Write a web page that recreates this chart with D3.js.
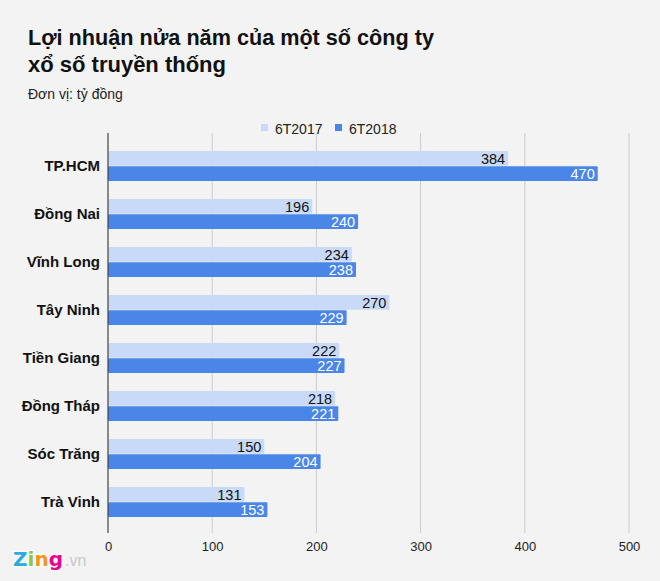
<!DOCTYPE html>
<html><head><meta charset="utf-8">
<script src="https://cdn.jsdelivr.net/npm/d3@7"></script>
<style>
body{margin:0;background:#f3f3f3;}
svg{display:block;font-family:"Liberation Sans",Arial,sans-serif;}
</style></head><body>
<svg id="c" width="660" height="581"></svg>
<script>
const categories = ["TP.HCM","Đồng Nai","Vĩnh Long","Tây Ninh","Tiền Giang","Đồng Tháp","Sóc Trăng","Trà Vinh"];
const series2017 = [384,196,234,270,222,218,150,131];
const series2018 = [470,240,238,229,227,221,204,153];
const seriesNames = ["6T2017","6T2018"];
const colors = ["#c9daf8","#4a86e8"];
const ticks = [0,100,200,300,400,500];

const svg = d3.select("#c");
svg.append("rect").attr("width",660).attr("height",581).attr("fill","#f3f3f3");

const x = d3.scaleLinear().domain([0,500]).range([108,629]);
const y = d3.scaleBand().domain(categories).range([142,526]);
const sub = d3.scaleBand().domain(seriesNames).range([9,39]).paddingInner(0.03);

// gridlines
svg.append("g").selectAll("line").data(ticks.slice(1)).join("line")
  .attr("x1",d=>x(d)).attr("x2",d=>x(d)).attr("y1",133).attr("y2",533)
  .attr("stroke","#cccccc").attr("stroke-width",1);

// title
svg.append("text").attr("x",28).attr("y",45).attr("font-size",22).attr("font-weight","bold").attr("fill","#111")
  .attr("textLength",406).attr("lengthAdjust","spacingAndGlyphs")
  .text("Lợi nhuận nửa năm của một số công ty");
svg.append("text").attr("x",28).attr("y",72).attr("font-size",22).attr("font-weight","bold").attr("fill","#111")
  .text("xổ số truyền thống");
svg.append("text").attr("x",28).attr("y",99).attr("font-size",14).attr("fill","#222")
  .text("Đơn vị: tỷ đồng");

// legend
const leg = svg.append("g");
const legX = [261,335];
seriesNames.forEach((n,i)=>{
  leg.append("rect").attr("x",legX[i]).attr("y",124).attr("width",7).attr("height",7).attr("fill",colors[i]);
  leg.append("text").attr("x",legX[i]+14).attr("y",134).attr("font-size",14).attr("fill","#222").text(n);
});

const data = categories.map((c,i)=>({c, vals:[series2017[i],series2018[i]]}));
const g = svg.append("g");
data.forEach(d=>{
  d.vals.forEach((v,j)=>{
    const yy = y(d.c)+sub(seriesNames[j]);
    g.append("rect").attr("x",x(0)).attr("y",yy).attr("width",x(v)-x(0)).attr("height",sub.bandwidth())
      .attr("fill",colors[j]).attr("rx",1);
    g.append("text").attr("x",x(v)-3).attr("y",yy+sub.bandwidth()/2).attr("dy","0.36em")
      .attr("text-anchor","end").attr("font-size",14.5).attr("fill",j===0?"#111":"#fff").text(v);
  });
});

// category labels
svg.append("g").selectAll("text").data(categories).join("text")
  .attr("x",100).attr("y",d=>y(d)+y.bandwidth()/2).attr("dy","0.36em")
  .attr("text-anchor","end").attr("font-size",15).attr("font-weight","bold").attr("fill","#111").text(d=>d);

// axis line
svg.append("line").attr("x1",x(0)).attr("x2",x(0)).attr("y1",133).attr("y2",533).attr("stroke","#444").attr("stroke-width",1.2);

// x tick labels
const xa = d3.axisBottom(x).tickValues(ticks).tickSize(0).tickPadding(0);
const ag = svg.append("g").attr("transform","translate(0,539)").call(xa);
ag.select(".domain").remove();
ag.selectAll("text").attr("font-size",13).attr("fill","#222").attr("font-family","'Liberation Sans',Arial,sans-serif").attr("dy","0.9em");

// logo
const logo = svg.append("g").attr("font-family","'DejaVu Sans',sans-serif").attr("font-weight","bold").attr("font-size",20);
const lt = logo.append("text").attr("x",13).attr("y",566).attr("stroke","#fff").attr("stroke-width",2.5).attr("paint-order","stroke");
[["Z","#29abe2"],["i","#8dc63f"],["n","#f7941d"],["g","#ec008c"]].forEach(([ch,col])=>lt.append("tspan").attr("fill",col).text(ch));
svg.append("text").attr("x",65).attr("y",566).attr("font-size",16).attr("fill","#c8c8c8").attr("font-family","'Liberation Sans',Arial,sans-serif").text(".vn");
</script></body></html>
